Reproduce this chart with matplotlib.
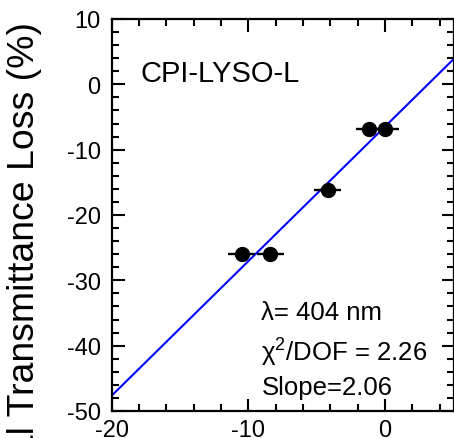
import numpy as np
import matplotlib
matplotlib.use("Agg")
import matplotlib.pyplot as plt
from matplotlib.ticker import MultipleLocator

plt.rcParams['font.family'] = ['Liberation Sans', 'DejaVu Sans']
plt.rcParams['mathtext.fontset'] = 'custom'
plt.rcParams['mathtext.rm'] = 'Liberation Sans'
plt.rcParams['mathtext.it'] = 'Liberation Sans:italic'
plt.rcParams['axes.unicode_minus'] = False

# measured points
x_vals = [-10.5, -8.4, -4.2, -1.2, 0.0]
y_vals = [-26.0, -26.0, -16.2, -6.8, -6.8]
x_errs = [1.0, 1.0, 1.0, 0.9, 1.0]

# linear fit shown on the plot
fit_slope = 2.06
fit_intercept = -6.45

sample = "CPI-LYSO-L"
info_lines = ["λ= 404 nm", "χ$^2$/DOF = 2.26", "Slope=2.06"]
ylabel = "Longitudinal Transmittance Loss (%)"

fig = plt.figure(figsize=(4.54, 4.39), dpi=100)
ax = fig.add_axes([111.7/454, 1 - 412/439, (453.5 - 111.7)/454, (412 - 20)/439])

xlim = (-20, 5)
ylim = (-50, 10)

xx = np.array(xlim)
ax.plot(xx, fit_slope*xx + fit_intercept, color='#0000ff', lw=1.5, zorder=2)

ax.errorbar(x_vals, y_vals, xerr=x_errs, fmt='o', color='black', ms=10,
            elinewidth=1.7, capsize=0, zorder=3)

ax.set_xlim(*xlim)
ax.set_ylim(*ylim)
ax.xaxis.set_major_locator(MultipleLocator(10))
ax.xaxis.set_minor_locator(MultipleLocator(2))
ax.yaxis.set_major_locator(MultipleLocator(10))
ax.yaxis.set_minor_locator(MultipleLocator(2))
ax.tick_params(which='both', direction='in', top=True, right=True, width=1.5,
               labelsize=17)
ax.tick_params(which='major', length=9)
ax.tick_params(which='minor', length=5)
ax.tick_params(axis='y', pad=8)
ax.tick_params(axis='x', pad=6)
for s in ax.spines.values():
    s.set_linewidth(1.6)

ax.text(-17.9, 1.8, sample, fontsize=21, ha='left', va='center')
for yy, txt in zip([-34.9, -40.9, -46.4], info_lines):
    ax.text(-9.05, yy, txt, fontsize=18.5, ha='left', va='center')

fig.text(42/454, 1 - 22/439, ylabel, rotation=90,
         ha='right', va='top', fontsize=26.9)

fig.savefig("out.png", dpi=100)
